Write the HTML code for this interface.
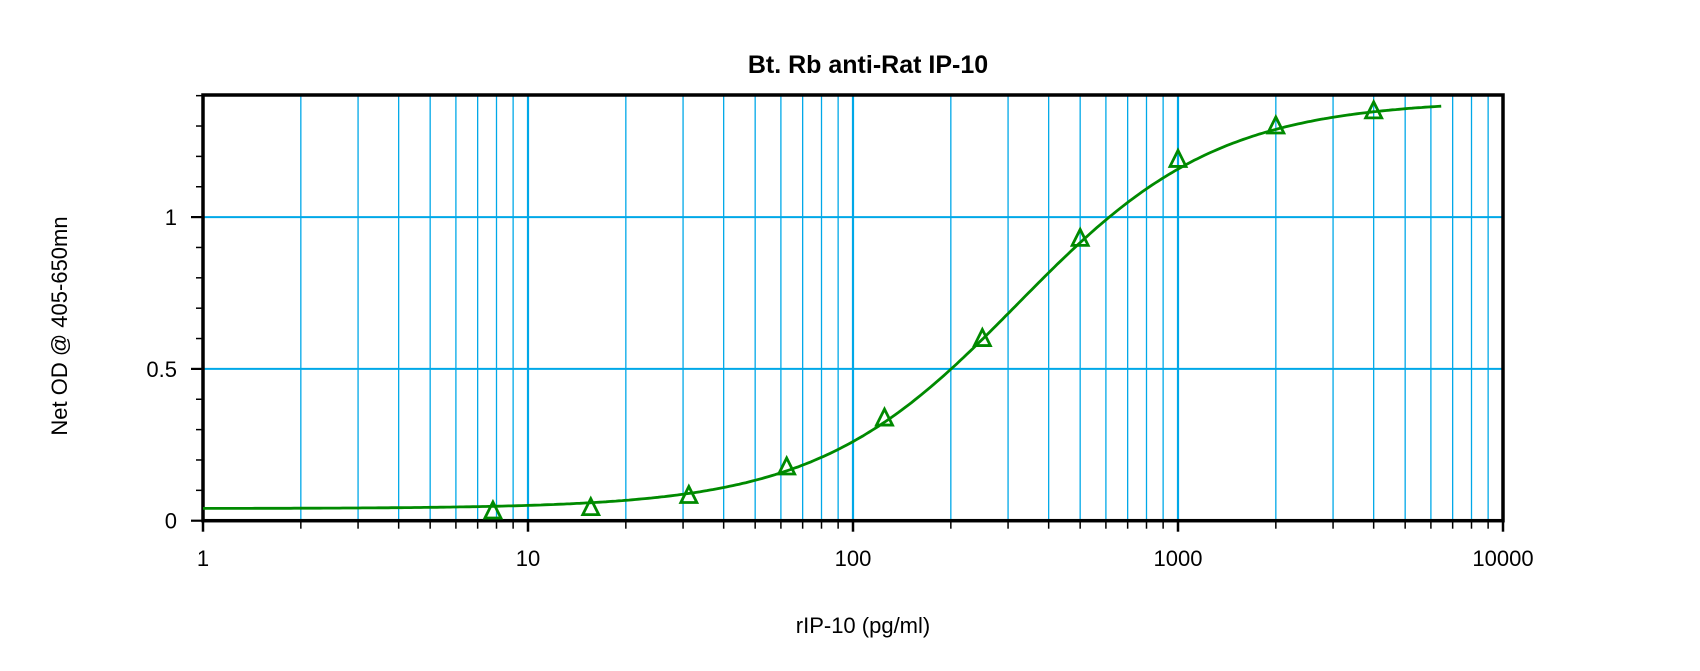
<!DOCTYPE html>
<html><head><meta charset="utf-8"><style>
html,body{margin:0;padding:0;background:#fff;}
svg{display:block;}
text{font-family:"Liberation Sans",Arial,sans-serif;fill:#000;}
</style></head><body>
<svg id="c" width="1700" height="671" xmlns="http://www.w3.org/2000/svg">
<text x="868" y="73" font-size="25" font-weight="bold" text-anchor="middle">Bt. Rb anti-Rat IP-10</text>
<text transform="translate(67,326) rotate(-90)" font-size="22" text-anchor="middle">Net OD @ 405-650mn</text>
<text x="863" y="633" font-size="22" text-anchor="middle">rIP-10 (pg/ml)</text>
<g id="g"></g>
</svg>
<script>
var L=203,R=1503,T=95,B=520.7,D=325,S=303.6;
function X(v){return L+Math.log10(v)*D;}
function Y(v){return B-v*S;}
var h='';
for(var d=0;d<4;d++){for(var k=1;k<=9;k++){var v=k*Math.pow(10,d);if(v==1)continue;var x=X(v);
h+='<line x1="'+x+'" y1="'+T+'" x2="'+x+'" y2="'+B+'" stroke="#00a8e8" stroke-width="'+(k==1?2.2:1.3)+'"/>';
h+='<line x1="'+x+'" y1="'+B+'" x2="'+x+'" y2="'+(B+(k==1?11:8))+'" stroke="#000" stroke-width="'+(k==1?2.5:1.5)+'"/>';}}
var x=X(10000);h+='<line x1="'+x+'" y1="'+B+'" x2="'+x+'" y2="'+(B+11)+'" stroke="#000" stroke-width="2.5"/>';
h+='<line x1="'+L+'" y1="'+B+'" x2="'+L+'" y2="'+(B+11)+'" stroke="#000" stroke-width="2.5"/>';
[0.5,1].forEach(function(v){h+='<line x1="'+L+'" y1="'+Y(v)+'" x2="'+R+'" y2="'+Y(v)+'" stroke="#00a8e8" stroke-width="2"/>';});
for(var i=0;i<=14;i++){var y=Y(i/10);var mj=(i%5==0);h+='<line x1="'+(L-(mj?12:7))+'" y1="'+y+'" x2="'+L+'" y2="'+y+'" stroke="#000" stroke-width="'+(mj?2.2:1.5)+'"/>';}
[['0',0],['0.5',0.5],['1',1]].forEach(function(a){h+='<text x="177" y="'+(Y(a[1])+8)+'" font-size="22" text-anchor="end">'+a[0]+'</text>';});
['1','10','100','1000','10000'].forEach(function(s,i){h+='<text x="'+(L+i*D)+'" y="'+566+'" font-size="22" text-anchor="middle">'+s+'</text>';});
h+='<rect x="'+L+'" y="'+T+'" width="'+(R-L)+'" height="'+(B-T)+'" fill="none" stroke="#000" stroke-width="3.5"/>';
function f(c){return 0.04+1.345/(1+Math.pow(320/c,1.4));}
var p='';for(var lx=0;lx<=3.815;lx+=0.01){var c=Math.pow(10,lx);p+=(p?'L':'M')+X(c).toFixed(1)+','+Y(f(c)).toFixed(1);}
h+='<path d="'+p+'" fill="none" stroke="#008a00" stroke-width="2.8"/>';
[[7.8,0.032],[15.6,0.043],[31.25,0.083],[62.5,0.177],[125,0.338],[250,0.60],[500,0.93],[1000,1.19],[2000,1.30],[4000,1.35]].forEach(function(q){var x=X(q[0]),y=Y(q[1]);
h+='<path d="M'+x+','+(y-9)+'L'+(x+8)+','+(y+7)+'L'+(x-8)+','+(y+7)+'Z" fill="none" stroke="#008a00" stroke-width="2.8"/>';});
document.getElementById('g').innerHTML=h;
</script>
</body></html>
